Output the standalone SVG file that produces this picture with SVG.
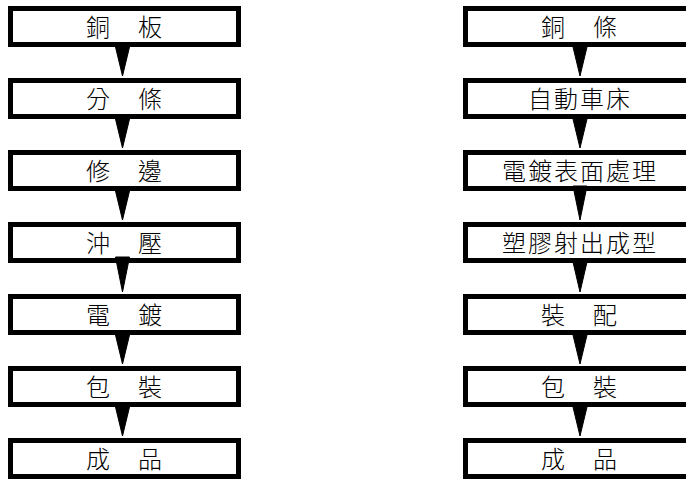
<svg xmlns="http://www.w3.org/2000/svg" width="686" height="480" viewBox="0 0 686 480">
<defs>
<style>
.box{fill:#fff;stroke:#000;stroke-width:5}
.t{font-family:"Noto Sans CJK TC","Noto Sans CJK SC",sans-serif;font-size:24px;font-weight:300;text-anchor:middle;fill:#000;letter-spacing:2px}
.arr{fill:#000;stroke:#000;stroke-width:1}
</style>
</defs>
<g id="left">
<g id="L1"><rect class="box" x="10.5" y="8.5" width="228" height="36"/><text class="t" x="125" y="36">銅　板</text></g>
<g id="L2"><rect class="box" x="10.5" y="80.5" width="228" height="36"/><text class="t" x="125" y="108">分　條</text></g>
<g id="L3"><rect class="box" x="10.5" y="152.5" width="228" height="36"/><text class="t" x="125" y="180">修　邊</text></g>
<g id="L4"><rect class="box" x="10.5" y="224.5" width="228" height="36"/><text class="t" x="125" y="252">沖　壓</text></g>
<g id="L5"><rect class="box" x="10.5" y="296.5" width="228" height="36"/><text class="t" x="125" y="324">電　鍍</text></g>
<g id="L6"><rect class="box" x="10.5" y="368.5" width="228" height="36"/><text class="t" x="125" y="396">包　裝</text></g>
<g id="L7"><rect class="box" x="10.5" y="440.5" width="228" height="36"/><text class="t" x="125" y="468">成　品</text></g>
</g>
<g id="right">
<g id="R1"><rect class="box" x="465.5" y="8.5" width="230" height="36"/><text class="t" x="580" y="36">銅　條</text></g>
<g id="R2"><rect class="box" x="465.5" y="80.5" width="230" height="36"/><text class="t" x="580" y="108">自動車床</text></g>
<g id="R3"><rect class="box" x="465.5" y="152.5" width="230" height="36"/><text class="t" x="580" y="180">電鍍表面處理</text></g>
<g id="R4"><rect class="box" x="465.5" y="224.5" width="230" height="36"/><text class="t" x="580" y="252">塑膠射出成型</text></g>
<g id="R5"><rect class="box" x="465.5" y="296.5" width="230" height="36"/><text class="t" x="580" y="324">裝　配</text></g>
<g id="R6"><rect class="box" x="465.5" y="368.5" width="230" height="36"/><text class="t" x="580" y="396">包　裝</text></g>
<g id="R7"><rect class="box" x="465.5" y="440.5" width="230" height="36"/><text class="t" x="580" y="468">成　品</text></g>
</g>
<g id="connectors">
<polygon class="arr" points="115.5,47 129.5,47 122.5,76"/>
<polygon class="arr" points="115.5,119 129.5,119 122.5,148"/>
<polygon class="arr" points="115.5,191 129.5,191 122.5,220"/>
<polygon class="arr" points="115.5,257 129.5,257 122.5,292"/>
<polygon class="arr" points="115.5,335 129.5,335 122.5,364"/>
<polygon class="arr" points="115.5,407 129.5,407 122.5,436"/>
<polygon class="arr" points="573,47 587,47 580,76"/>
<polygon class="arr" points="573,119 587,119 580,148"/>
<polygon class="arr" points="573,186 587,186 580,220"/>
<polygon class="arr" points="573,262 587,262 580,292"/>
<polygon class="arr" points="573,335 587,335 580,364"/>
<polygon class="arr" points="573,407 587,407 580,436"/>
</g>
</svg>
